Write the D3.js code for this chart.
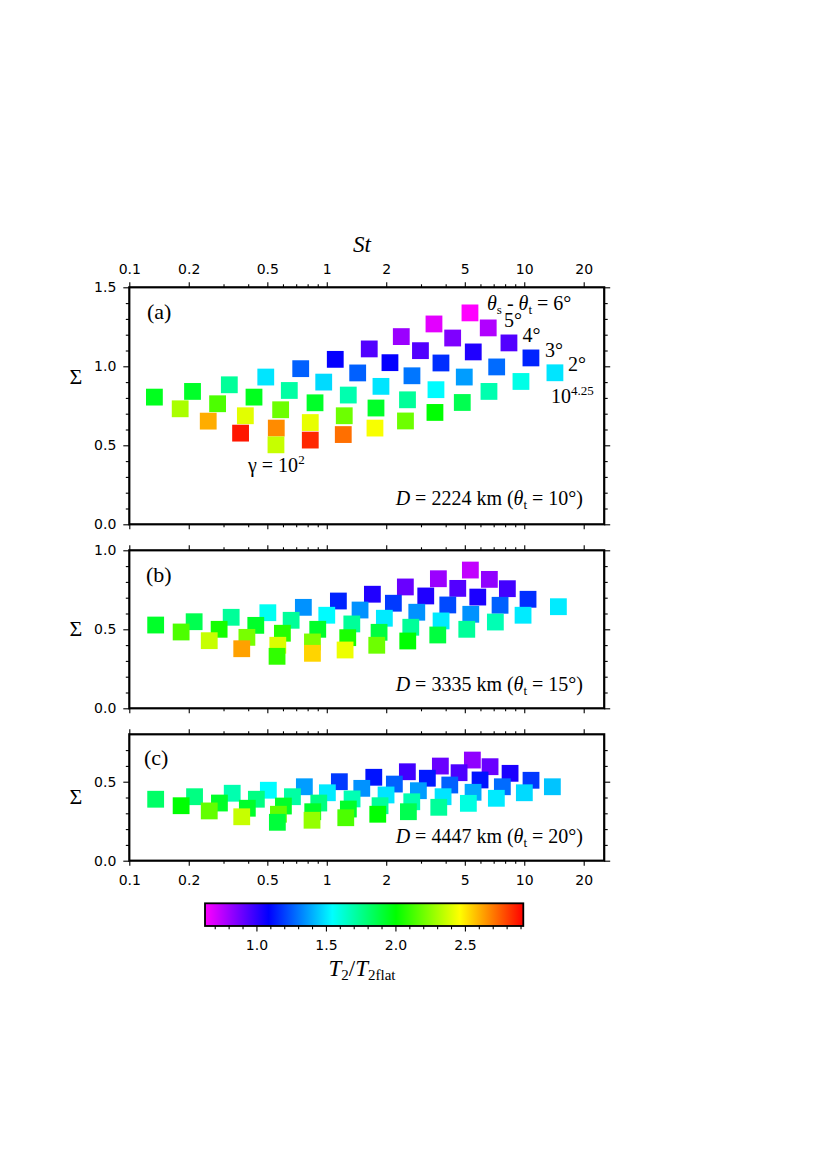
<!DOCTYPE html>
<html><head><meta charset="utf-8">
<script src="https://cdn.jsdelivr.net/npm/d3@7"></script>
<style>body{margin:0;background:#fff}svg{display:block}</style>
</head><body><svg id="chart" width="831" height="1175"></svg>
<script>
// ---------- data ----------
// rows: theta_s - theta_t = 6,5,4,3,2 deg ; columns: gamma = 10^2 ... 10^4.25
const dTheta = [6, 5, 4, 3, 2];
const gammaExp = [2, 2.25, 2.5, 2.75, 3, 3.25, 3.5, 3.75, 4, 4.25];

const stA = [
  [0.134,0.209,0.321,0.491,0.738,1.104,1.641,2.384,3.49,5.31],
  [0.181,0.280,0.428,0.646,0.965,1.434,2.089,2.981,4.34,6.57],
  [0.251,0.387,0.584,0.872,1.285,1.881,2.70,3.786,5.518,8.366],
  [0.366,0.555,0.825,1.226,1.775,2.563,3.572,4.969,7.251,10.81],
  [0.553,0.825,1.212,1.754,2.503,3.530,4.855,6.627,9.623,14.30]
];
const sigA = [
  [0.805,0.841,0.883,0.932,0.985,1.044,1.110,1.188,1.268,1.338],
  [0.731,0.763,0.805,0.847,0.900,0.958,1.023,1.099,1.179,1.243],
  [0.653,0.687,0.725,0.769,0.818,0.873,0.940,1.021,1.091,1.148],
  [0.577,0.609,0.644,0.687,0.736,0.788,0.852,0.932,0.996,1.053],
  [0.503,0.533,0.568,0.609,0.654,0.708,0.771,0.841,0.904,0.959]
];
const tA = [
  [1.95,1.93,1.73,1.50,1.26,1.08,0.94,0.81,0.68,0.63],
  [2.31,2.14,1.95,1.71,1.48,1.26,1.08,0.94,0.86,0.77],
  [2.61,2.41,2.20,1.93,1.69,1.50,1.30,1.17,1.03,0.94],
  [2.88,2.67,2.42,2.20,1.93,1.73,1.54,1.37,1.28,1.15],
  [2.36,2.85,2.72,2.45,2.20,2.00,1.86,1.69,1.59,1.50]
];

const stB = [
  [0.136,0.213,0.328,0.503,0.761,1.145,1.702,2.500,3.674,5.335],
  [0.183,0.285,0.437,0.660,1.000,1.474,2.174,3.171,4.606,6.658],
  [0.254,0.394,0.596,0.900,1.339,1.957,2.856,4.100,5.816,8.213],
  [0.371,0.565,0.846,1.277,1.840,2.663,3.791,5.360,7.542,10.45],
  [0.560,0.846,1.238,1.791,2.571,3.648,5.116,7.140,9.861,14.89]
];
const sigB = [
  [0.527,0.548,0.576,0.605,0.639,0.679,0.722,0.768,0.820,0.875],
  [0.483,0.500,0.525,0.557,0.589,0.622,0.665,0.711,0.759,0.816],
  [0.428,0.449,0.475,0.500,0.534,0.570,0.608,0.654,0.704,0.757],
  [0.377,0.399,0.420,0.447,0.481,0.513,0.553,0.595,0.652,0.690],
  [0.329,0.348,0.369,0.399,0.426,0.464,0.500,0.546,0.589,0.643]
];
const tB = [
  [1.93,1.86,1.73,1.57,1.35,1.15,1.03,0.90,0.81,0.74],
  [2.14,2.04,1.93,1.73,1.54,1.35,1.19,1.03,0.94,0.83],
  [2.36,2.22,2.07,1.93,1.73,1.51,1.35,1.22,1.04,0.97],
  [2.63,2.40,2.23,2.05,1.89,1.73,1.51,1.35,1.26,1.17],
  [2.09,2.54,2.43,2.20,2.00,1.89,1.73,1.68,1.51,1.51]
];

const stC = [
  [0.136,0.214,0.332,0.506,0.770,1.158,1.730,2.559,3.760,5.461],
  [0.183,0.286,0.440,0.670,1.007,1.504,2.199,3.231,4.677,6.712],
  [0.254,0.396,0.603,0.911,1.343,1.996,2.910,4.196,5.973,8.476],
  [0.371,0.569,0.849,1.286,1.861,2.694,3.881,5.506,7.746,10.82],
  [0.562,0.842,1.248,1.812,2.590,3.691,5.212,7.223,10.01,13.88]
];
const sigC = [
  [0.389,0.405,0.427,0.446,0.468,0.500,0.528,0.563,0.599,0.637],
  [0.348,0.365,0.389,0.405,0.430,0.458,0.485,0.522,0.557,0.595],
  [0.315,0.332,0.346,0.365,0.391,0.416,0.443,0.479,0.511,0.553],
  [0.278,0.294,0.310,0.327,0.348,0.373,0.405,0.433,0.468,0.509],
  [0.243,0.256,0.272,0.294,0.310,0.338,0.363,0.395,0.430,0.468]
];
const tC = [
  [1.82,1.77,1.69,1.54,1.37,1.19,1.12,0.97,0.90,0.83],
  [2.00,1.93,1.77,1.71,1.51,1.35,1.26,1.13,0.95,0.90],
  [2.18,1.93,1.93,1.77,1.68,1.50,1.37,1.26,1.12,1.04],
  [2.36,2.18,1.93,1.93,1.73,1.69,1.50,1.39,1.28,1.19],
  [1.90,2.27,2.14,2.00,1.86,1.73,1.60,1.51,1.48,1.44]
];

// ticks
const xMajor = [0.1, 0.2, 0.5, 1, 2, 5, 10, 20];
const xTickLabels = ["0.1", "0.2", "0.5", "1", "2", "5", "10", "20"];
const xMinor = [0.3, 0.4, 0.6, 0.7, 0.8, 0.9, 3, 4, 6, 7, 8, 9];
const yMajorA = [0, 0.5, 1.0, 1.5], yLabelsA = ["0.0", "0.5", "1.0", "1.5"];
const yMajorB = [0, 0.5, 1.0],      yLabelsB = ["0.0", "0.5", "1.0"];
const yMajorC = [0, 0.5],           yLabelsC = ["0.0", "0.5"];
const yMinorA = [0.1,0.2,0.3,0.4,0.6,0.7,0.8,0.9,1.1,1.2,1.3,1.4];
const yMinorB = [0.1,0.2,0.3,0.4,0.6,0.7,0.8,0.9];
const yMinorC = [0.1,0.2,0.3,0.4,0.6,0.7];
const cbMajor = [1.0, 1.5, 2.0, 2.5], cbLabels = ["1.0", "1.5", "2.0", "2.5"];
const cbMinor = [0.7,0.8,0.9,1.1,1.2,1.3,1.4,1.6,1.7,1.8,1.9,2.1,2.2,2.3,2.4,2.6,2.7,2.8,2.9];
const cbDomain = [0.63, 2.92];
const cbColors = ["#ff00ff", "#0000ff", "#00ffff", "#00ff00", "#ffff00", "#ff0000"];

// ---------- drawing ----------
const svg = d3.select("#chart");
const SANS = "DejaVu Sans", SERIF = "Liberation Serif";
const SZ = 16.8;

const xScale = d3.scaleLog().domain([0.1, 25.4]).range([129.3, 604.2]);
const cStops = cbColors.map((c, i) => cbDomain[0] + i * (cbDomain[1] - cbDomain[0]) / (cbColors.length - 1));
const color = d3.scaleLinear().domain(cStops).range(cbColors).clamp(true);

const panels = [
  {st: stA, sig: sigA, t: tA, y: d3.scaleLinear().domain([0, 1.5]).range([524.3, 287.3]),
   yMajor: yMajorA, yLabels: yLabelsA, yMinor: yMinorA, top: true, bottom: false},
  {st: stB, sig: sigB, t: tB, y: d3.scaleLinear().domain([0, 1.0]).range([708.3, 550.3]),
   yMajor: yMajorB, yLabels: yLabelsB, yMinor: yMinorB, top: false, bottom: false},
  {st: stC, sig: sigC, t: tC, y: d3.scaleLinear().domain([0, 0.8]).range([860.7, 734.3]),
   yMajor: yMajorC, yLabels: yLabelsC, yMinor: yMinorC, top: false, bottom: true}
];

function styleAxis(g) {
  g.select(".domain").remove();
  g.attr("font-family", SANS).attr("font-size", 14);
  g.selectAll("line").attr("stroke", "#000").attr("stroke-width", 1.1);
  g.selectAll("text").attr("fill", "#000");
}

panels.forEach(p => {
  const g = svg.append("g");
  const [x0, x1] = xScale.range();
  const [yb, yt] = p.y.range();
  // squares
  p.st.forEach((row, i) => row.forEach((s, j) => {
    g.append("rect")
      .attr("x", xScale(s) - SZ / 2).attr("y", p.y(p.sig[i][j]) - SZ / 2)
      .attr("width", SZ).attr("height", SZ)
      .attr("fill", color(p.t[i][j]));
  }));
  // axes
  g.append("g").attr("transform", `translate(0,${yt})`)
    .call(d3.axisTop(xScale).tickValues(xMajor).tickSize(5).tickPadding(8.3)
      .tickFormat((d, i) => p.top ? xTickLabels[i] : "")).call(styleAxis);
  g.append("g").attr("transform", `translate(0,${yt})`)
    .call(d3.axisTop(xScale).tickValues(xMinor).tickSize(3).tickFormat("")).call(styleAxis);
  g.append("g").attr("transform", `translate(0,${yb})`)
    .call(d3.axisBottom(xScale).tickValues(xMajor).tickSize(5).tickPadding(9)
      .tickFormat((d, i) => p.bottom ? xTickLabels[i] : "")).call(styleAxis);
  g.append("g").attr("transform", `translate(0,${yb})`)
    .call(d3.axisBottom(xScale).tickValues(xMinor).tickSize(3).tickFormat("")).call(styleAxis);
  g.append("g").attr("transform", `translate(${x0},0)`)
    .call(d3.axisLeft(p.y).tickValues(p.yMajor).tickSize(6).tickPadding(7)
      .tickFormat((d, i) => p.yLabels[i])).call(styleAxis);
  g.append("g").attr("transform", `translate(${x0},0)`)
    .call(d3.axisLeft(p.y).tickValues(p.yMinor).tickSize(3.5).tickFormat("")).call(styleAxis);
  g.append("g").attr("transform", `translate(${x1},0)`)
    .call(d3.axisRight(p.y).tickValues(p.yMajor).tickSize(6).tickFormat("")).call(styleAxis);
  g.append("g").attr("transform", `translate(${x1},0)`)
    .call(d3.axisRight(p.y).tickValues(p.yMinor).tickSize(3.5).tickFormat("")).call(styleAxis);
  // frame
  g.append("rect").attr("x", x0).attr("y", yt).attr("width", x1 - x0).attr("height", yb - yt)
    .attr("fill", "none").attr("stroke", "#000").attr("stroke-width", 2.2);
});

// ---------- text ----------
function txt(x, y, size, anchor) {
  return svg.append("text").attr("x", x).attr("y", y).attr("font-family", SERIF)
    .attr("font-size", size).attr("text-anchor", anchor || "start").attr("fill", "#000");
}
function span(t, s, opts) {
  const e = t.append("tspan").text(s);
  if (opts) Object.entries(opts).forEach(([k, v]) => e.attr(k, v));
  return e;
}

// axis titles
txt(362, 251.5, 23, "middle").attr("font-style", "italic").text("St");
[{y: 384}, {y: 636}, {y: 804}].forEach(o => txt(76, o.y, 22, "middle").text("Σ"));

// panel letters
txt(147, 319, 22).text("(a)");
txt(146, 582, 22).text("(b)");
txt(144, 765, 22).text("(c)");

// D labels
[["2224", "10", 505], ["3335", "15", 690.5], ["4447", "20", 843.3]].forEach(([d, th, yy]) => {
  const t = txt(583, yy, 20, "end");
  span(t, "D", {"font-style": "italic"});
  span(t, " = " + d + " km (");
  span(t, "θ", {"font-style": "italic"});
  span(t, "t", {"font-size": 13, dy: 4});
  span(t, " = " + th + "°)", {dy: -4});
});

// series annotations (panel a)
{
  const t = txt(487, 310, 20);
  span(t, "θ", {"font-style": "italic"});
  span(t, "s", {"font-size": 13, dy: 4});
  span(t, " - ", {dy: -4});
  span(t, "θ", {"font-style": "italic"});
  span(t, "t", {"font-size": 13, dy: 4});
  span(t, " = 6°", {dy: -4});
}
[["5°", 504, 327], ["4°", 522.5, 341.5], ["3°", 545, 356.5], ["2°", 568, 371]]
  .forEach(([s, x, y]) => txt(x, y, 20).text(s));
{
  const t = txt(551, 403.3, 20);
  span(t, "10");
  span(t, "4.25", {"font-size": 13, dy: -8});
}
{
  const t = txt(248, 472, 20);
  span(t, "γ = 10");
  span(t, "2", {"font-size": 13, dy: -8});
}

// ---------- colorbar ----------
const cb = {x0: 205, x1: 523.3, y0: 903.3, y1: 926};
const cbScale = d3.scaleLinear().domain(cbDomain).range([cb.x0, cb.x1]);
const grad = svg.append("defs").append("linearGradient").attr("id", "cbg")
  .attr("x1", "0%").attr("x2", "100%").attr("y1", "0%").attr("y2", "0%");
cStops.forEach((v, i) => grad.append("stop")
  .attr("offset", ((v - cbDomain[0]) / (cbDomain[1] - cbDomain[0]) * 100) + "%")
  .attr("stop-color", cbColors[i]));
svg.append("rect").attr("x", cb.x0).attr("y", cb.y0).attr("width", cb.x1 - cb.x0)
  .attr("height", cb.y1 - cb.y0).attr("fill", "url(#cbg)").attr("stroke", "#000").attr("stroke-width", 1.8);
svg.append("g").attr("transform", `translate(0,${cb.y1})`)
  .call(d3.axisBottom(cbScale).tickValues(cbMajor).tickSize(5.5).tickPadding(8.5)
    .tickFormat((d, i) => cbLabels[i])).call(styleAxis);
svg.append("g").attr("transform", `translate(0,${cb.y1})`)
  .call(d3.axisBottom(cbScale).tickValues(cbMinor).tickSize(3.3).tickFormat("")).call(styleAxis);
{
  const t = txt(328.5, 976, 23);
  span(t, "T", {"font-style": "italic"});
  span(t, "2", {"font-size": 15, dy: 4});
  span(t, "/", {dy: -4});
  span(t, "T", {"font-style": "italic"});
  span(t, "2flat", {"font-size": 15, dy: 4});
}
</script>
</body></html>
